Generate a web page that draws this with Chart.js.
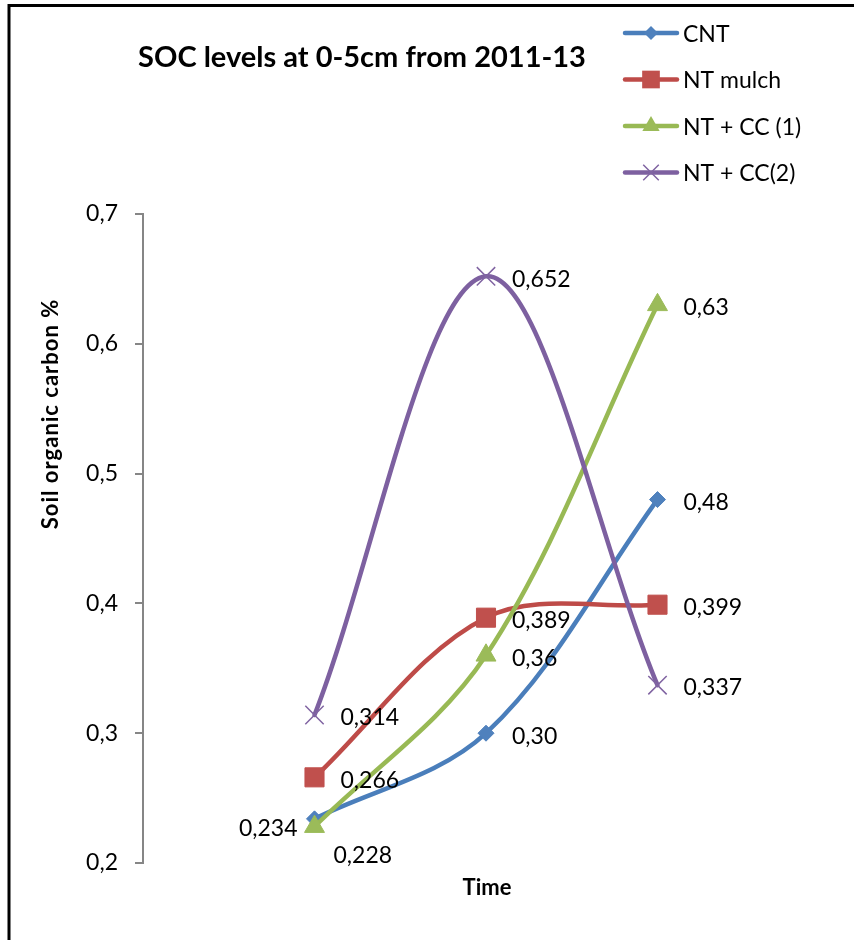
<!DOCTYPE html>
<html>
<head>
<meta charset="utf-8">
<script src="https://cdn.jsdelivr.net/npm/chart.js@4/dist/chart.umd.min.js"></script>
<style>
  html, body { margin: 0; padding: 0; background: #fff; }
  #wrap { width: 854px; height: 940px; position: relative; }
  canvas { display: block; }
</style>
</head>
<body>
<div id="wrap"><canvas id="soc" width="854" height="940"></canvas></div>
<script>
// Sampling times (three yearly measurements, 2011-2013)
const timePoints = [1, 2, 3];

// Series names and SOC values (%)
const seriesNames = ['CNT', 'NT mulch', 'NT + CC (1)', 'NT + CC(2)'];
const cntValues = [0.234, 0.30, 0.48];
const ntMulchValues = [0.266, 0.389, 0.399];
const ntCc1Values = [0.228, 0.36, 0.63];
const ntCc2Values = [0.314, 0.652, 0.337];

// Number of decimals shown in each value label
const cntDecimals = [3, 2, 2];
const ntMulchDecimals = [3, 3, 3];
const ntCc1Decimals = [3, 2, 2];
const ntCc2Decimals = [3, 3, 3];

// Y axis tick values
const yTickValues = [0.2, 0.3, 0.4, 0.5, 0.6, 0.7];

const FONT = 'Lato, "Open Sans", sans-serif';
const fmt = (v, d) => v.toFixed(d).replace('.', ',');

const styles = [
  { line: '#4A7EBB', fill: '#4F81BD', point: 'rectRot',  radius: 8,    legendRadius: 7,    border: 1 },
  { line: '#BE4B48', fill: '#C0504D', point: 'rect',     radius: 13.5, legendRadius: 12.5, border: 1 },
  { line: '#98B954', fill: '#9BBB59', point: 'triangle', radius: 11.5, legendRadius: 10,   border: 1 },
  { line: '#7D60A0', fill: '#8064A2', point: 'crossRot', radius: 13,   legendRadius: 11,   border: 1.5 }
];

const values = [cntValues, ntMulchValues, ntCc1Values, ntCc2Values];
const decimals = [cntDecimals, ntMulchDecimals, ntCc1Decimals, ntCc2Decimals];

// Where each value label sits relative to its marker
const labelPlacement = {
  default: { dx: 26, dy: 2, align: 'left' },
  '0-0': { dx: -17, dy: 9, align: 'right' },
  '2-0': { dx: 19, dy: 28, align: 'left' }
};

const datasets = values.map((vals, i) => ({
  label: seriesNames[i],
  data: vals.map((v, j) => ({ x: timePoints[j], y: v })),
  borderColor: styles[i].line,
  borderWidth: 4.5,
  borderCapStyle: 'round',
  borderJoinStyle: 'round',
  tension: 0.34,
  fill: false,
  pointStyle: styles[i].point,
  pointRadius: styles[i].radius,
  pointHoverRadius: styles[i].radius,
  pointBackgroundColor: styles[i].fill,
  pointBorderColor: styles[i].fill,
  pointBorderWidth: styles[i].border,
  order: values.length - 1 - i
}));

function drawMarker(ctx, style, x, y, r, color, lw) {
  ctx.save();
  ctx.fillStyle = color;
  ctx.strokeStyle = color;
  ctx.lineWidth = lw;
  ctx.beginPath();
  if (style === 'rectRot') {
    ctx.moveTo(x, y - r); ctx.lineTo(x + r, y); ctx.lineTo(x, y + r); ctx.lineTo(x - r, y);
    ctx.closePath(); ctx.fill();
  } else if (style === 'rect') {
    const s = r * Math.SQRT1_2;
    ctx.rect(x - s, y - s, 2 * s, 2 * s); ctx.fill();
  } else if (style === 'triangle') {
    for (let k = 0; k < 3; k++) {
      const a = k * 2 * Math.PI / 3;
      const px = x + Math.sin(a) * r, py = y - Math.cos(a) * r;
      if (k === 0) ctx.moveTo(px, py); else ctx.lineTo(px, py);
    }
    ctx.closePath(); ctx.fill();
  } else if (style === 'crossRot') {
    const s = r * Math.SQRT1_2;
    ctx.moveTo(x - s, y - s); ctx.lineTo(x + s, y + s);
    ctx.moveTo(x + s, y - s); ctx.lineTo(x - s, y + s);
    ctx.stroke();
  }
  ctx.restore();
}

const decor = {
  id: 'socDecor',
  beforeDraw(chart) {
    const ctx = chart.ctx;
    ctx.save();
    ctx.fillStyle = '#fff';
    ctx.fillRect(0, 0, chart.width, chart.height);
    // frame (top and left edges)
    ctx.strokeStyle = '#000';
    ctx.lineWidth = 3;
    ctx.beginPath();
    ctx.moveTo(9, 940);
    ctx.lineTo(9, 5.5);
    ctx.lineTo(854, 5.5);
    ctx.stroke();
    ctx.restore();
  },
  afterDraw(chart) {
    const ctx = chart.ctx;
    ctx.save();
    ctx.fillStyle = '#000';

    // chart title
    ctx.font = 'bold 29px ' + FONT;
    ctx.textAlign = 'center';
    ctx.textBaseline = 'alphabetic';
    ctx.fillText('SOC levels at 0-5cm from 2011-13', 362, 67);

    // x axis title
    ctx.font = 'bold 22px ' + FONT;
    ctx.fillText('Time', 487, 895);

    // y axis title
    ctx.save();
    ctx.translate(58, 414);
    ctx.rotate(-Math.PI / 2);
    ctx.font = 'bold 22px ' + FONT;
    ctx.letterSpacing = '1px';
    ctx.textAlign = 'center';
    ctx.fillText('Soil organic carbon %', 0, 0);
    ctx.restore();

    // legend
    ctx.font = '23px ' + FONT;
    ctx.textAlign = 'left';
    seriesNames.forEach((name, i) => {
      const y = 33 + i * 46.5;
      ctx.save();
      ctx.strokeStyle = styles[i].line;
      ctx.lineWidth = 4.5;
      ctx.lineCap = 'round';
      ctx.beginPath();
      ctx.moveTo(625, y);
      ctx.lineTo(677, y);
      ctx.stroke();
      ctx.restore();
      drawMarker(ctx, styles[i].point, 651, y, styles[i].legendRadius, styles[i].fill, styles[i].border);
      ctx.fillStyle = '#000';
      ctx.fillText(name, 683, y + 8.5);
    });

    // value labels
    ctx.font = '23px ' + FONT;
    chart.data.datasets.forEach((ds, i) => {
      const meta = chart.getDatasetMeta(i);
      meta.data.forEach((pt, j) => {
        const p = labelPlacement[i + '-' + j] || labelPlacement.default;
        ctx.textAlign = p.align;
        ctx.fillText(fmt(values[i][j], decimals[i][j]), pt.x + p.dx, pt.y + p.dy + 8.3);
      });
    });
    ctx.restore();
  }
};

new Chart(document.getElementById('soc'), {
  type: 'line',
  data: { datasets },
  options: {
    responsive: false,
    animation: false,
    devicePixelRatio: 1,
    layout: { padding: { top: 214, bottom: 77, left: 0, right: 25 } },
    plugins: { legend: { display: false }, tooltip: { enabled: false }, title: { display: false } },
    scales: {
      x: {
        type: 'linear',
        min: 0,
        max: 4,
        display: false
      },
      y: {
        min: 0.2,
        max: 0.7,
        afterBuildTicks(scale) { scale.ticks = yTickValues.map(v => ({ value: v })); },
        afterFit(scale) { scale.width = 143; },
        ticks: {
          color: '#000',
          padding: 17,
          font: { family: FONT, size: 23 },
          callback: v => fmt(v, 1)
        },
        grid: {
          drawOnChartArea: false,
          drawTicks: true,
          tickLength: 8,
          color: '#868686',
          lineWidth: 2
        },
        border: { display: true, color: '#868686', width: 2 }
      }
    }
  },
  plugins: [decor]
});
</script>
</body>
</html>
